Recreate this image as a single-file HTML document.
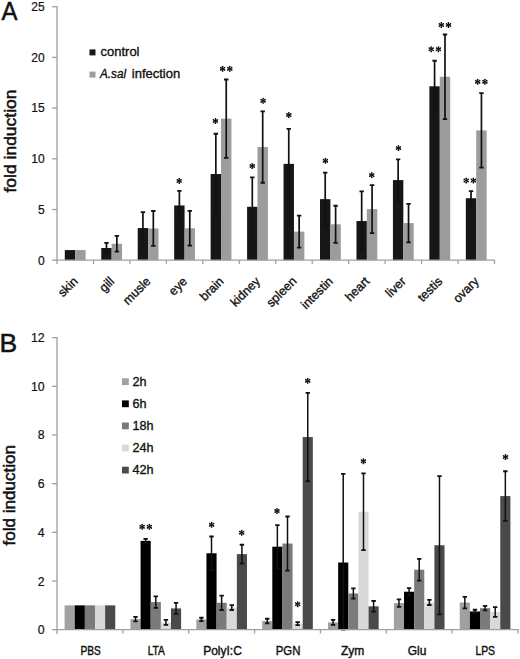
<!DOCTYPE html><html><head><meta charset="utf-8"><title>fold induction</title><style>html,body{margin:0;padding:0;background:#fff;}svg{display:block;}text{font-family:"Liberation Sans", sans-serif;fill:#111;stroke:#111;stroke-width:0.2px;}.b5{stroke-width:0.5px;}.b4{stroke-width:0.4px;}.b3{stroke-width:0.35px;}</style></head><body>
<svg width="520" height="659" viewBox="0 0 520 659">
<rect width="520" height="659" fill="#fff"/>
<text class="b5" x="1.5" y="19.9" font-size="25.5" textLength="16" lengthAdjust="spacingAndGlyphs">A</text>
<text class="b5" transform="translate(15.6,141) rotate(-90)" text-anchor="middle" font-size="16" textLength="103" lengthAdjust="spacingAndGlyphs">fold induction</text>
<path d="M52 260.2H57" stroke="#a0a0a0" stroke-width="1.3"/>
<text x="44.6" y="264.5" font-size="12" text-anchor="end">0</text>
<path d="M52 209.5H57" stroke="#a0a0a0" stroke-width="1.3"/>
<text x="44.6" y="213.8" font-size="12" text-anchor="end">5</text>
<path d="M52 158.8H57" stroke="#a0a0a0" stroke-width="1.3"/>
<text x="44.6" y="163.1" font-size="12" text-anchor="end">10</text>
<path d="M52 108.1H57" stroke="#a0a0a0" stroke-width="1.3"/>
<text x="44.6" y="112.4" font-size="12" text-anchor="end">15</text>
<path d="M52 57.4H57" stroke="#a0a0a0" stroke-width="1.3"/>
<text x="44.6" y="61.7" font-size="12" text-anchor="end">20</text>
<path d="M52 6.7H57" stroke="#a0a0a0" stroke-width="1.3"/>
<text x="44.6" y="11" font-size="12" text-anchor="end">25</text>
<rect x="64.8" y="250.06" width="10.4" height="10.14" fill="#161616"/>
<rect x="75.2" y="250.06" width="10.4" height="10.14" fill="#9c9c9c"/>
<rect x="101.26" y="248.03" width="10.4" height="12.17" fill="#161616"/>
<rect x="111.66" y="243.77" width="10.4" height="16.43" fill="#9c9c9c"/>
<rect x="137.72" y="228.06" width="10.4" height="32.14" fill="#161616"/>
<rect x="148.12" y="228.46" width="10.4" height="31.74" fill="#9c9c9c"/>
<rect x="174.18" y="205.44" width="10.4" height="54.76" fill="#161616"/>
<rect x="184.58" y="228.26" width="10.4" height="31.94" fill="#9c9c9c"/>
<rect x="210.63" y="174.01" width="10.4" height="86.19" fill="#161616"/>
<rect x="221.03" y="118.65" width="10.4" height="141.55" fill="#9c9c9c"/>
<rect x="247.09" y="206.76" width="10.4" height="53.44" fill="#161616"/>
<rect x="257.49" y="147.04" width="10.4" height="113.16" fill="#9c9c9c"/>
<rect x="283.55" y="163.87" width="10.4" height="96.33" fill="#161616"/>
<rect x="293.95" y="231.61" width="10.4" height="28.59" fill="#9c9c9c"/>
<rect x="320.01" y="199.16" width="10.4" height="61.04" fill="#161616"/>
<rect x="330.41" y="224.3" width="10.4" height="35.9" fill="#9c9c9c"/>
<rect x="356.47" y="221.06" width="10.4" height="39.14" fill="#161616"/>
<rect x="366.87" y="209.09" width="10.4" height="51.11" fill="#9c9c9c"/>
<rect x="392.93" y="180.09" width="10.4" height="80.11" fill="#161616"/>
<rect x="403.32" y="223.09" width="10.4" height="37.11" fill="#9c9c9c"/>
<rect x="429.38" y="86.3" width="10.4" height="173.9" fill="#161616"/>
<rect x="439.78" y="76.77" width="10.4" height="183.43" fill="#9c9c9c"/>
<rect x="465.84" y="198.24" width="10.4" height="61.96" fill="#161616"/>
<rect x="476.24" y="130.41" width="10.4" height="129.79" fill="#9c9c9c"/>
<path d="M106.46 242.96V253.1" stroke="#111" stroke-width="1.7"/><path d="M104.26 242.96H108.66 M104.26 253.1H108.66" stroke="#111" stroke-width="1.8"/>
<path d="M116.86 235.86V251.68" stroke="#111" stroke-width="1.7"/><path d="M114.66 235.86H119.06 M114.66 251.68H119.06" stroke="#111" stroke-width="1.8"/>
<path d="M142.92 212.03V244.08" stroke="#111" stroke-width="1.7"/><path d="M140.72 212.03H145.12 M140.72 244.08H145.12" stroke="#111" stroke-width="1.8"/>
<path d="M153.32 211.02V245.9" stroke="#111" stroke-width="1.7"/><path d="M151.12 211.02H155.52 M151.12 245.9H155.52" stroke="#111" stroke-width="1.8"/>
<path d="M179.38 190.84V220.05" stroke="#111" stroke-width="1.7"/><path d="M177.18 190.84H181.57 M177.18 220.05H181.57" stroke="#111" stroke-width="1.8"/>
<path d="M189.78 210.82V245.7" stroke="#111" stroke-width="1.7"/><path d="M187.58 210.82H191.97 M187.58 245.7H191.97" stroke="#111" stroke-width="1.8"/>
<path d="M215.83 133.75V214.27" stroke="#111" stroke-width="1.7"/><path d="M213.63 133.75H218.03 M213.63 214.27H218.03" stroke="#111" stroke-width="1.8"/>
<path d="M226.23 79.51V157.79" stroke="#111" stroke-width="1.7"/><path d="M224.03 79.51H228.43 M224.03 157.79H228.43" stroke="#111" stroke-width="1.8"/>
<path d="M252.29 177.36V236.17" stroke="#111" stroke-width="1.7"/><path d="M250.09 177.36H254.49 M250.09 236.17H254.49" stroke="#111" stroke-width="1.8"/>
<path d="M262.69 111.34V182.73" stroke="#111" stroke-width="1.7"/><path d="M260.49 111.34H264.89 M260.49 182.73H264.89" stroke="#111" stroke-width="1.8"/>
<path d="M288.75 128.89V198.85" stroke="#111" stroke-width="1.7"/><path d="M286.55 128.89H290.95 M286.55 198.85H290.95" stroke="#111" stroke-width="1.8"/>
<path d="M299.15 215.58V247.63" stroke="#111" stroke-width="1.7"/><path d="M296.95 215.58H301.35 M296.95 247.63H301.35" stroke="#111" stroke-width="1.8"/>
<path d="M325.21 172.59V225.72" stroke="#111" stroke-width="1.7"/><path d="M323.01 172.59H327.41 M323.01 225.72H327.41" stroke="#111" stroke-width="1.8"/>
<path d="M335.61 205.75V242.86" stroke="#111" stroke-width="1.7"/><path d="M333.41 205.75H337.81 M333.41 242.86H337.81" stroke="#111" stroke-width="1.8"/>
<path d="M361.67 191.35V250.77" stroke="#111" stroke-width="1.7"/><path d="M359.47 191.35H363.87 M359.47 250.77H363.87" stroke="#111" stroke-width="1.8"/>
<path d="M372.07 185.06V233.13" stroke="#111" stroke-width="1.7"/><path d="M369.87 185.06H374.27 M369.87 233.13H374.27" stroke="#111" stroke-width="1.8"/>
<path d="M398.12 159.31V200.88" stroke="#111" stroke-width="1.7"/><path d="M395.93 159.31H400.32 M395.93 200.88H400.32" stroke="#111" stroke-width="1.8"/>
<path d="M408.53 203.82V242.35" stroke="#111" stroke-width="1.7"/><path d="M406.33 203.82H410.73 M406.33 242.35H410.73" stroke="#111" stroke-width="1.8"/>
<path d="M434.58 60.75V111.85" stroke="#111" stroke-width="1.7"/><path d="M432.38 60.75H436.78 M432.38 111.85H436.78" stroke="#111" stroke-width="1.8"/>
<path d="M444.98 34.48V119.05" stroke="#111" stroke-width="1.7"/><path d="M442.78 34.48H447.18 M442.78 119.05H447.18" stroke="#111" stroke-width="1.8"/>
<path d="M471.04 191.05V205.44" stroke="#111" stroke-width="1.7"/><path d="M468.84 191.05H473.24 M468.84 205.44H473.24" stroke="#111" stroke-width="1.8"/>
<path d="M481.44 93.09V167.72" stroke="#111" stroke-width="1.7"/><path d="M479.24 93.09H483.64 M479.24 167.72H483.64" stroke="#111" stroke-width="1.8"/>
<path d="M57 6V264" stroke="#a0a0a0" stroke-width="1.3"/>
<path d="M56.4 260.2H495.1" stroke="#a0a0a0" stroke-width="1.3"/>
<path d="M93.46 260.2V264" stroke="#a0a0a0" stroke-width="1.3"/>
<path d="M129.92 260.2V264" stroke="#a0a0a0" stroke-width="1.3"/>
<path d="M166.38 260.2V264" stroke="#a0a0a0" stroke-width="1.3"/>
<path d="M202.83 260.2V264" stroke="#a0a0a0" stroke-width="1.3"/>
<path d="M239.29 260.2V264" stroke="#a0a0a0" stroke-width="1.3"/>
<path d="M275.75 260.2V264" stroke="#a0a0a0" stroke-width="1.3"/>
<path d="M312.21 260.2V264" stroke="#a0a0a0" stroke-width="1.3"/>
<path d="M348.67 260.2V264" stroke="#a0a0a0" stroke-width="1.3"/>
<path d="M385.12 260.2V264" stroke="#a0a0a0" stroke-width="1.3"/>
<path d="M421.58 260.2V264" stroke="#a0a0a0" stroke-width="1.3"/>
<path d="M458.04 260.2V264" stroke="#a0a0a0" stroke-width="1.3"/>
<path d="M494.5 260.2V264" stroke="#a0a0a0" stroke-width="1.3"/>
<text class="b3" transform="translate(78.53,282) rotate(-45)" text-anchor="end" font-size="12.4">skin</text>
<text class="b3" transform="translate(114.99,282) rotate(-45)" text-anchor="end" font-size="12.4">gill</text>
<text class="b3" transform="translate(151.45,282) rotate(-45)" text-anchor="end" font-size="12.4">musle</text>
<text class="b3" transform="translate(187.9,282) rotate(-45)" text-anchor="end" font-size="12.4">eye</text>
<text class="b3" transform="translate(224.36,282) rotate(-45)" text-anchor="end" font-size="12.4">brain</text>
<text class="b3" transform="translate(260.82,282) rotate(-45)" text-anchor="end" font-size="12.4">kidney</text>
<text class="b3" transform="translate(297.28,282) rotate(-45)" text-anchor="end" font-size="12.4">spleen</text>
<text class="b3" transform="translate(333.74,282) rotate(-45)" text-anchor="end" font-size="12.4">intestin</text>
<text class="b3" transform="translate(370.2,282) rotate(-45)" text-anchor="end" font-size="12.4">heart</text>
<text class="b3" transform="translate(406.65,282) rotate(-45)" text-anchor="end" font-size="12.4">liver</text>
<text class="b3" transform="translate(443.11,282) rotate(-45)" text-anchor="end" font-size="12.4">testis</text>
<text class="b3" transform="translate(479.57,282) rotate(-45)" text-anchor="end" font-size="12.4">ovary</text>
<rect x="89.5" y="49.4" width="6" height="6" fill="#161616"/>
<text class="b3" x="100.5" y="56.1" font-size="12.5" textLength="39" lengthAdjust="spacingAndGlyphs">control</text>
<rect x="89.5" y="71.6" width="6" height="6" fill="#9c9c9c"/>
<text class="b3" x="100" y="78" font-size="12.5" font-style="italic" textLength="26" lengthAdjust="spacingAndGlyphs">A.sal</text>
<text class="b3" x="131.8" y="78" font-size="12.5" textLength="48.4" lengthAdjust="spacingAndGlyphs">infection</text>
<path d="M179.2 178.6L179.2 183.2M177.21 179.75L181.19 182.05M181.19 179.75L177.21 182.05M177.9 180.9H180.5" stroke="#111" stroke-width="1" fill="none"/><circle cx="179.2" cy="183.09" r="0.85" fill="#111"/><circle cx="179.2" cy="178.72" r="0.85" fill="#111"/><circle cx="181.09" cy="181.99" r="0.85" fill="#111"/><circle cx="177.31" cy="179.81" r="0.85" fill="#111"/><circle cx="177.31" cy="181.99" r="0.85" fill="#111"/><circle cx="181.09" cy="179.81" r="0.85" fill="#111"/>
<path d="M215.4 118.7L215.4 123.3M213.41 119.85L217.39 122.15M217.39 119.85L213.41 122.15M214.1 121H216.7" stroke="#111" stroke-width="1" fill="none"/><circle cx="215.4" cy="123.19" r="0.85" fill="#111"/><circle cx="215.4" cy="118.81" r="0.85" fill="#111"/><circle cx="217.29" cy="122.09" r="0.85" fill="#111"/><circle cx="213.51" cy="119.91" r="0.85" fill="#111"/><circle cx="213.51" cy="122.09" r="0.85" fill="#111"/><circle cx="217.29" cy="119.91" r="0.85" fill="#111"/>
<path d="M222.6 66.5L222.6 71.1M220.61 67.65L224.59 69.95M224.59 67.65L220.61 69.95M221.3 68.8H223.9" stroke="#111" stroke-width="1" fill="none"/><circle cx="222.6" cy="70.98" r="0.85" fill="#111"/><circle cx="222.6" cy="66.61" r="0.85" fill="#111"/><circle cx="224.49" cy="69.89" r="0.85" fill="#111"/><circle cx="220.71" cy="67.71" r="0.85" fill="#111"/><circle cx="220.71" cy="69.89" r="0.85" fill="#111"/><circle cx="224.49" cy="67.71" r="0.85" fill="#111"/><path d="M229.8 66.5L229.8 71.1M227.81 67.65L231.79 69.95M231.79 67.65L227.81 69.95M228.5 68.8H231.1" stroke="#111" stroke-width="1" fill="none"/><circle cx="229.8" cy="70.98" r="0.85" fill="#111"/><circle cx="229.8" cy="66.61" r="0.85" fill="#111"/><circle cx="231.69" cy="69.89" r="0.85" fill="#111"/><circle cx="227.91" cy="67.71" r="0.85" fill="#111"/><circle cx="227.91" cy="69.89" r="0.85" fill="#111"/><circle cx="231.69" cy="67.71" r="0.85" fill="#111"/>
<path d="M252.3 163.7L252.3 168.3M250.31 164.85L254.29 167.15M254.29 164.85L250.31 167.15M251 166H253.6" stroke="#111" stroke-width="1" fill="none"/><circle cx="252.3" cy="168.19" r="0.85" fill="#111"/><circle cx="252.3" cy="163.81" r="0.85" fill="#111"/><circle cx="254.19" cy="167.09" r="0.85" fill="#111"/><circle cx="250.41" cy="164.91" r="0.85" fill="#111"/><circle cx="250.41" cy="167.09" r="0.85" fill="#111"/><circle cx="254.19" cy="164.91" r="0.85" fill="#111"/>
<path d="M263.1 98.5L263.1 103.1M261.11 99.65L265.09 101.95M265.09 99.65L261.11 101.95M261.8 100.8H264.4" stroke="#111" stroke-width="1" fill="none"/><circle cx="263.1" cy="102.98" r="0.85" fill="#111"/><circle cx="263.1" cy="98.61" r="0.85" fill="#111"/><circle cx="264.99" cy="101.89" r="0.85" fill="#111"/><circle cx="261.21" cy="99.71" r="0.85" fill="#111"/><circle cx="261.21" cy="101.89" r="0.85" fill="#111"/><circle cx="264.99" cy="99.71" r="0.85" fill="#111"/>
<path d="M288.8 112.7L288.8 117.3M286.81 113.85L290.79 116.15M290.79 113.85L286.81 116.15M287.5 115H290.1" stroke="#111" stroke-width="1" fill="none"/><circle cx="288.8" cy="117.19" r="0.85" fill="#111"/><circle cx="288.8" cy="112.81" r="0.85" fill="#111"/><circle cx="290.69" cy="116.09" r="0.85" fill="#111"/><circle cx="286.91" cy="113.91" r="0.85" fill="#111"/><circle cx="286.91" cy="116.09" r="0.85" fill="#111"/><circle cx="290.69" cy="113.91" r="0.85" fill="#111"/>
<path d="M325.4 158.5L325.4 163.1M323.41 159.65L327.39 161.95M327.39 159.65L323.41 161.95M324.1 160.8H326.7" stroke="#111" stroke-width="1" fill="none"/><circle cx="325.4" cy="162.99" r="0.85" fill="#111"/><circle cx="325.4" cy="158.62" r="0.85" fill="#111"/><circle cx="327.29" cy="161.89" r="0.85" fill="#111"/><circle cx="323.51" cy="159.71" r="0.85" fill="#111"/><circle cx="323.51" cy="161.89" r="0.85" fill="#111"/><circle cx="327.29" cy="159.71" r="0.85" fill="#111"/>
<path d="M371.7 172.8L371.7 177.4M369.71 173.95L373.69 176.25M373.69 173.95L369.71 176.25M370.4 175.1H373" stroke="#111" stroke-width="1" fill="none"/><circle cx="371.7" cy="177.28" r="0.85" fill="#111"/><circle cx="371.7" cy="172.91" r="0.85" fill="#111"/><circle cx="373.59" cy="176.19" r="0.85" fill="#111"/><circle cx="369.81" cy="174.01" r="0.85" fill="#111"/><circle cx="369.81" cy="176.19" r="0.85" fill="#111"/><circle cx="373.59" cy="174.01" r="0.85" fill="#111"/>
<path d="M398.5 145.8L398.5 150.4M396.51 146.95L400.49 149.25M400.49 146.95L396.51 149.25M397.2 148.1H399.8" stroke="#111" stroke-width="1" fill="none"/><circle cx="398.5" cy="150.28" r="0.85" fill="#111"/><circle cx="398.5" cy="145.91" r="0.85" fill="#111"/><circle cx="400.39" cy="149.19" r="0.85" fill="#111"/><circle cx="396.61" cy="147.01" r="0.85" fill="#111"/><circle cx="396.61" cy="149.19" r="0.85" fill="#111"/><circle cx="400.39" cy="147.01" r="0.85" fill="#111"/>
<path d="M431.2 46.9L431.2 51.5M429.21 48.05L433.19 50.35M433.19 48.05L429.21 50.35M429.9 49.2H432.5" stroke="#111" stroke-width="1" fill="none"/><circle cx="431.2" cy="51.39" r="0.85" fill="#111"/><circle cx="431.2" cy="47.02" r="0.85" fill="#111"/><circle cx="433.09" cy="50.29" r="0.85" fill="#111"/><circle cx="429.31" cy="48.11" r="0.85" fill="#111"/><circle cx="429.31" cy="50.29" r="0.85" fill="#111"/><circle cx="433.09" cy="48.11" r="0.85" fill="#111"/><path d="M438.4 46.9L438.4 51.5M436.41 48.05L440.39 50.35M440.39 48.05L436.41 50.35M437.1 49.2H439.7" stroke="#111" stroke-width="1" fill="none"/><circle cx="438.4" cy="51.39" r="0.85" fill="#111"/><circle cx="438.4" cy="47.02" r="0.85" fill="#111"/><circle cx="440.29" cy="50.29" r="0.85" fill="#111"/><circle cx="436.51" cy="48.11" r="0.85" fill="#111"/><circle cx="436.51" cy="50.29" r="0.85" fill="#111"/><circle cx="440.29" cy="48.11" r="0.85" fill="#111"/>
<path d="M441.3 22.7L441.3 27.3M439.31 23.85L443.29 26.15M443.29 23.85L439.31 26.15M440 25H442.6" stroke="#111" stroke-width="1" fill="none"/><circle cx="441.3" cy="27.18" r="0.85" fill="#111"/><circle cx="441.3" cy="22.82" r="0.85" fill="#111"/><circle cx="443.19" cy="26.09" r="0.85" fill="#111"/><circle cx="439.41" cy="23.91" r="0.85" fill="#111"/><circle cx="439.41" cy="26.09" r="0.85" fill="#111"/><circle cx="443.19" cy="23.91" r="0.85" fill="#111"/><path d="M448.5 22.7L448.5 27.3M446.51 23.85L450.49 26.15M450.49 23.85L446.51 26.15M447.2 25H449.8" stroke="#111" stroke-width="1" fill="none"/><circle cx="448.5" cy="27.18" r="0.85" fill="#111"/><circle cx="448.5" cy="22.82" r="0.85" fill="#111"/><circle cx="450.39" cy="26.09" r="0.85" fill="#111"/><circle cx="446.61" cy="23.91" r="0.85" fill="#111"/><circle cx="446.61" cy="26.09" r="0.85" fill="#111"/><circle cx="450.39" cy="23.91" r="0.85" fill="#111"/>
<path d="M466.2 178.2L466.2 182.8M464.21 179.35L468.19 181.65M468.19 179.35L464.21 181.65M464.9 180.5H467.5" stroke="#111" stroke-width="1" fill="none"/><circle cx="466.2" cy="182.69" r="0.85" fill="#111"/><circle cx="466.2" cy="178.31" r="0.85" fill="#111"/><circle cx="468.09" cy="181.59" r="0.85" fill="#111"/><circle cx="464.31" cy="179.41" r="0.85" fill="#111"/><circle cx="464.31" cy="181.59" r="0.85" fill="#111"/><circle cx="468.09" cy="179.41" r="0.85" fill="#111"/><path d="M473.4 178.2L473.4 182.8M471.41 179.35L475.39 181.65M475.39 179.35L471.41 181.65M472.1 180.5H474.7" stroke="#111" stroke-width="1" fill="none"/><circle cx="473.4" cy="182.69" r="0.85" fill="#111"/><circle cx="473.4" cy="178.31" r="0.85" fill="#111"/><circle cx="475.29" cy="181.59" r="0.85" fill="#111"/><circle cx="471.51" cy="179.41" r="0.85" fill="#111"/><circle cx="471.51" cy="181.59" r="0.85" fill="#111"/><circle cx="475.29" cy="179.41" r="0.85" fill="#111"/>
<path d="M477.7 79.5L477.7 84.1M475.71 80.65L479.69 82.95M479.69 80.65L475.71 82.95M476.4 81.8H479" stroke="#111" stroke-width="1" fill="none"/><circle cx="477.7" cy="83.98" r="0.85" fill="#111"/><circle cx="477.7" cy="79.61" r="0.85" fill="#111"/><circle cx="479.59" cy="82.89" r="0.85" fill="#111"/><circle cx="475.81" cy="80.71" r="0.85" fill="#111"/><circle cx="475.81" cy="82.89" r="0.85" fill="#111"/><circle cx="479.59" cy="80.71" r="0.85" fill="#111"/><path d="M484.9 79.5L484.9 84.1M482.91 80.65L486.89 82.95M486.89 80.65L482.91 82.95M483.6 81.8H486.2" stroke="#111" stroke-width="1" fill="none"/><circle cx="484.9" cy="83.98" r="0.85" fill="#111"/><circle cx="484.9" cy="79.61" r="0.85" fill="#111"/><circle cx="486.79" cy="82.89" r="0.85" fill="#111"/><circle cx="483.01" cy="80.71" r="0.85" fill="#111"/><circle cx="483.01" cy="82.89" r="0.85" fill="#111"/><circle cx="486.79" cy="80.71" r="0.85" fill="#111"/>
<text class="b5" x="-0.6" y="351.9" font-size="26.5">B</text>
<text class="b5" transform="translate(14.6,495.3) rotate(-90)" text-anchor="middle" font-size="16" textLength="100.5" lengthAdjust="spacingAndGlyphs">fold induction</text>
<path d="M52 629.7H57" stroke="#a0a0a0" stroke-width="1.3"/>
<text x="44.6" y="634.2" font-size="12.3" text-anchor="end">0</text>
<path d="M52 581.02H57" stroke="#a0a0a0" stroke-width="1.3"/>
<text x="44.6" y="585.52" font-size="12.3" text-anchor="end">2</text>
<path d="M52 532.34H57" stroke="#a0a0a0" stroke-width="1.3"/>
<text x="44.6" y="536.84" font-size="12.3" text-anchor="end">4</text>
<path d="M52 483.66H57" stroke="#a0a0a0" stroke-width="1.3"/>
<text x="44.6" y="488.16" font-size="12.3" text-anchor="end">6</text>
<path d="M52 434.98H57" stroke="#a0a0a0" stroke-width="1.3"/>
<text x="44.6" y="439.48" font-size="12.3" text-anchor="end">8</text>
<path d="M52 386.3H57" stroke="#a0a0a0" stroke-width="1.3"/>
<text x="44.6" y="390.8" font-size="12.3" text-anchor="end">10</text>
<path d="M52 337.62H57" stroke="#a0a0a0" stroke-width="1.3"/>
<text x="44.6" y="342.12" font-size="12.3" text-anchor="end">12</text>
<rect x="64.6" y="605.36" width="10.13" height="24.34" fill="#a0a0a0"/>
<rect x="74.73" y="605.36" width="10.13" height="24.34" fill="#000000"/>
<rect x="84.86" y="605.36" width="10.13" height="24.34" fill="#7a7a7a"/>
<rect x="94.99" y="605.36" width="10.13" height="24.34" fill="#d9d9d9"/>
<rect x="105.13" y="605.36" width="10.13" height="24.34" fill="#4a4a4a"/>
<rect x="130.46" y="619.11" width="10.13" height="10.59" fill="#a0a0a0"/>
<rect x="140.59" y="540.86" width="10.13" height="88.84" fill="#000000"/>
<rect x="150.72" y="602.07" width="10.13" height="27.63" fill="#7a7a7a"/>
<rect x="160.85" y="622.4" width="10.13" height="7.3" fill="#d9d9d9"/>
<rect x="170.98" y="608.4" width="10.13" height="21.3" fill="#4a4a4a"/>
<rect x="196.31" y="619.48" width="10.13" height="10.22" fill="#a0a0a0"/>
<rect x="206.45" y="553.27" width="10.13" height="76.43" fill="#000000"/>
<rect x="216.58" y="602.8" width="10.13" height="26.9" fill="#7a7a7a"/>
<rect x="226.71" y="607.55" width="10.13" height="22.15" fill="#d9d9d9"/>
<rect x="236.84" y="554.12" width="10.13" height="75.58" fill="#4a4a4a"/>
<rect x="262.17" y="621.06" width="10.13" height="8.64" fill="#a0a0a0"/>
<rect x="272.3" y="546.7" width="10.13" height="83" fill="#000000"/>
<rect x="282.43" y="543.54" width="10.13" height="86.16" fill="#7a7a7a"/>
<rect x="292.57" y="623.62" width="10.13" height="6.09" fill="#d9d9d9"/>
<rect x="302.7" y="437.05" width="10.13" height="192.65" fill="#4a4a4a"/>
<rect x="328.03" y="622.4" width="10.13" height="7.3" fill="#a0a0a0"/>
<rect x="338.16" y="562.52" width="10.13" height="67.18" fill="#000000"/>
<rect x="348.29" y="593.43" width="10.13" height="36.27" fill="#7a7a7a"/>
<rect x="358.42" y="511.77" width="10.13" height="117.93" fill="#d9d9d9"/>
<rect x="368.55" y="606.33" width="10.13" height="23.37" fill="#4a4a4a"/>
<rect x="393.88" y="603.05" width="10.13" height="26.65" fill="#a0a0a0"/>
<rect x="404.02" y="591.73" width="10.13" height="37.97" fill="#000000"/>
<rect x="414.15" y="569.7" width="10.13" height="60" fill="#7a7a7a"/>
<rect x="424.28" y="602.44" width="10.13" height="27.26" fill="#d9d9d9"/>
<rect x="434.41" y="545.24" width="10.13" height="84.46" fill="#4a4a4a"/>
<rect x="459.74" y="602.56" width="10.13" height="27.14" fill="#a0a0a0"/>
<rect x="469.87" y="611.45" width="10.13" height="18.25" fill="#000000"/>
<rect x="480.01" y="608.16" width="10.13" height="21.54" fill="#7a7a7a"/>
<rect x="490.14" y="611.93" width="10.13" height="17.77" fill="#d9d9d9"/>
<rect x="500.27" y="496.07" width="10.13" height="133.63" fill="#4a4a4a"/>
<path d="M135.52 616.8V621.42" stroke="#111" stroke-width="1.5"/><path d="M133.32 616.8H137.72 M133.32 621.42H137.72" stroke="#111" stroke-width="1.8"/>
<path d="M145.65 538.91V542.81" stroke="#111" stroke-width="1.5"/><path d="M143.45 538.91H147.85 M143.45 542.81H147.85" stroke="#111" stroke-width="1.8"/>
<path d="M155.79 596.35V607.79" stroke="#111" stroke-width="1.5"/><path d="M153.59 596.35H157.99 M153.59 607.79H157.99" stroke="#111" stroke-width="1.8"/>
<path d="M165.92 619.96V624.83" stroke="#111" stroke-width="1.5"/><path d="M163.72 619.96H168.12 M163.72 624.83H168.12" stroke="#111" stroke-width="1.8"/>
<path d="M176.05 602.93V613.88" stroke="#111" stroke-width="1.5"/><path d="M173.85 602.93H178.25 M173.85 613.88H178.25" stroke="#111" stroke-width="1.8"/>
<path d="M201.38 617.77V621.18" stroke="#111" stroke-width="1.5"/><path d="M199.18 617.77H203.58 M199.18 621.18H203.58" stroke="#111" stroke-width="1.8"/>
<path d="M211.51 536.48V570.07" stroke="#111" stroke-width="1.5"/><path d="M209.31 536.48H213.71 M209.31 570.07H213.71" stroke="#111" stroke-width="1.8"/>
<path d="M221.64 595.62V609.98" stroke="#111" stroke-width="1.5"/><path d="M219.44 595.62H223.84 M219.44 609.98H223.84" stroke="#111" stroke-width="1.8"/>
<path d="M231.77 605.12V609.98" stroke="#111" stroke-width="1.5"/><path d="M229.57 605.12H233.97 M229.57 609.98H233.97" stroke="#111" stroke-width="1.8"/>
<path d="M241.91 544.75V563.5" stroke="#111" stroke-width="1.5"/><path d="M239.71 544.75H244.11 M239.71 563.5H244.11" stroke="#111" stroke-width="1.8"/>
<path d="M267.24 618.75V623.37" stroke="#111" stroke-width="1.5"/><path d="M265.04 618.75H269.44 M265.04 623.37H269.44" stroke="#111" stroke-width="1.8"/>
<path d="M277.37 525.04V568.36" stroke="#111" stroke-width="1.5"/><path d="M275.17 525.04H279.57 M275.17 568.36H279.57" stroke="#111" stroke-width="1.8"/>
<path d="M287.5 516.52V570.55" stroke="#111" stroke-width="1.5"/><path d="M285.3 516.52H289.7 M285.3 570.55H289.7" stroke="#111" stroke-width="1.8"/>
<path d="M297.63 622.15V625.08" stroke="#111" stroke-width="1.5"/><path d="M295.43 622.15H299.83 M295.43 625.08H299.83" stroke="#111" stroke-width="1.8"/>
<path d="M307.76 392.87V481.23" stroke="#111" stroke-width="1.5"/><path d="M305.56 392.87H309.96 M305.56 481.23H309.96" stroke="#111" stroke-width="1.8"/>
<path d="M333.09 619.96V624.83" stroke="#111" stroke-width="1.5"/><path d="M330.89 619.96H335.29 M330.89 624.83H335.29" stroke="#111" stroke-width="1.8"/>
<path d="M343.23 473.92V629.7" stroke="#111" stroke-width="1.5"/><path d="M341.03 473.92H345.43 M341.03 629.7H345.43" stroke="#111" stroke-width="1.8"/>
<path d="M353.36 588.32V598.54" stroke="#111" stroke-width="1.5"/><path d="M351.16 588.32H355.56 M351.16 598.54H355.56" stroke="#111" stroke-width="1.8"/>
<path d="M363.49 473.44V550.11" stroke="#111" stroke-width="1.5"/><path d="M361.29 473.44H365.69 M361.29 550.11H365.69" stroke="#111" stroke-width="1.8"/>
<path d="M373.62 600.98V611.69" stroke="#111" stroke-width="1.5"/><path d="M371.42 600.98H375.82 M371.42 611.69H375.82" stroke="#111" stroke-width="1.8"/>
<path d="M398.95 599.28V606.82" stroke="#111" stroke-width="1.5"/><path d="M396.75 599.28H401.15 M396.75 606.82H401.15" stroke="#111" stroke-width="1.8"/>
<path d="M409.08 588.08V595.38" stroke="#111" stroke-width="1.5"/><path d="M406.88 588.08H411.28 M406.88 595.38H411.28" stroke="#111" stroke-width="1.8"/>
<path d="M419.21 558.87V580.53" stroke="#111" stroke-width="1.5"/><path d="M417.01 558.87H421.41 M417.01 580.53H421.41" stroke="#111" stroke-width="1.8"/>
<path d="M429.35 599.88V604.99" stroke="#111" stroke-width="1.5"/><path d="M427.15 599.88H431.55 M427.15 604.99H431.55" stroke="#111" stroke-width="1.8"/>
<path d="M439.48 476.11V614.37" stroke="#111" stroke-width="1.5"/><path d="M437.28 476.11H441.68 M437.28 614.37H441.68" stroke="#111" stroke-width="1.8"/>
<path d="M464.81 596.84V608.28" stroke="#111" stroke-width="1.5"/><path d="M462.61 596.84H467.01 M462.61 608.28H467.01" stroke="#111" stroke-width="1.8"/>
<path d="M474.94 609.74V613.15" stroke="#111" stroke-width="1.5"/><path d="M472.74 609.74H477.14 M472.74 613.15H477.14" stroke="#111" stroke-width="1.8"/>
<path d="M485.07 605.85V610.47" stroke="#111" stroke-width="1.5"/><path d="M482.87 605.85H487.27 M482.87 610.47H487.27" stroke="#111" stroke-width="1.8"/>
<path d="M495.2 607.06V616.8" stroke="#111" stroke-width="1.5"/><path d="M493 607.06H497.4 M493 616.8H497.4" stroke="#111" stroke-width="1.8"/>
<path d="M505.34 471.25V520.9" stroke="#111" stroke-width="1.5"/><path d="M503.14 471.25H507.54 M503.14 520.9H507.54" stroke="#111" stroke-width="1.8"/>
<path d="M57 337V634" stroke="#a0a0a0" stroke-width="1.3"/>
<path d="M56.4 629.7H518.6" stroke="#a0a0a0" stroke-width="1.3"/>
<path d="M122.86 629.7V633.5" stroke="#a0a0a0" stroke-width="1.3"/>
<path d="M188.71 629.7V633.5" stroke="#a0a0a0" stroke-width="1.3"/>
<path d="M254.57 629.7V633.5" stroke="#a0a0a0" stroke-width="1.3"/>
<path d="M320.43 629.7V633.5" stroke="#a0a0a0" stroke-width="1.3"/>
<path d="M386.29 629.7V633.5" stroke="#a0a0a0" stroke-width="1.3"/>
<path d="M452.14 629.7V633.5" stroke="#a0a0a0" stroke-width="1.3"/>
<path d="M518 629.7V633.5" stroke="#a0a0a0" stroke-width="1.3"/>
<text class="b4" x="90.7" y="655.3" font-size="12" text-anchor="middle" textLength="20.3" lengthAdjust="spacingAndGlyphs">PBS</text>
<text class="b4" x="156.25" y="655.3" font-size="12" text-anchor="middle" textLength="17.2" lengthAdjust="spacingAndGlyphs">LTA</text>
<text class="b4" x="222.5" y="655.3" font-size="12" text-anchor="middle">PolyI:C</text>
<text class="b4" x="288.1" y="655.3" font-size="12" text-anchor="middle" textLength="24.7" lengthAdjust="spacingAndGlyphs">PGN</text>
<text class="b4" x="352.6" y="655.3" font-size="12" text-anchor="middle">Zym</text>
<text class="b4" x="417" y="655.3" font-size="12" text-anchor="middle" textLength="18.6" lengthAdjust="spacingAndGlyphs">Glu</text>
<text class="b4" x="485.2" y="655.3" font-size="12" text-anchor="middle" textLength="19.6" lengthAdjust="spacingAndGlyphs">LPS</text>
<rect x="122" y="378.3" width="6.8" height="6.8" fill="#a0a0a0"/>
<text class="b3" x="132.6" y="385.6" font-size="12.6">2h</text>
<rect x="122" y="400.4" width="6.8" height="6.8" fill="#000000"/>
<text class="b3" x="132.6" y="407.7" font-size="12.6">6h</text>
<rect x="122" y="422.5" width="6.8" height="6.8" fill="#7a7a7a"/>
<text class="b3" x="132.6" y="429.8" font-size="12.6">18h</text>
<rect x="122" y="444.6" width="6.8" height="6.8" fill="#d9d9d9"/>
<text class="b3" x="132.6" y="451.9" font-size="12.6">24h</text>
<rect x="122" y="466.7" width="6.8" height="6.8" fill="#4a4a4a"/>
<text class="b3" x="132.6" y="474" font-size="12.6">42h</text>
<path d="M142.15 524.5L142.15 529.1M140.16 525.65L144.14 527.95M144.14 525.65L140.16 527.95M140.85 526.8H143.45" stroke="#111" stroke-width="1" fill="none"/><circle cx="142.15" cy="528.98" r="0.85" fill="#111"/><circle cx="142.15" cy="524.62" r="0.85" fill="#111"/><circle cx="144.04" cy="527.89" r="0.85" fill="#111"/><circle cx="140.26" cy="525.71" r="0.85" fill="#111"/><circle cx="140.26" cy="527.89" r="0.85" fill="#111"/><circle cx="144.04" cy="525.71" r="0.85" fill="#111"/><path d="M149.35 524.5L149.35 529.1M147.36 525.65L151.34 527.95M151.34 525.65L147.36 527.95M148.05 526.8H150.65" stroke="#111" stroke-width="1" fill="none"/><circle cx="149.35" cy="528.98" r="0.85" fill="#111"/><circle cx="149.35" cy="524.62" r="0.85" fill="#111"/><circle cx="151.24" cy="527.89" r="0.85" fill="#111"/><circle cx="147.46" cy="525.71" r="0.85" fill="#111"/><circle cx="147.46" cy="527.89" r="0.85" fill="#111"/><circle cx="151.24" cy="525.71" r="0.85" fill="#111"/>
<path d="M211.6 522.5L211.6 527.1M209.61 523.65L213.59 525.95M213.59 523.65L209.61 525.95M210.3 524.8H212.9" stroke="#111" stroke-width="1" fill="none"/><circle cx="211.6" cy="526.98" r="0.85" fill="#111"/><circle cx="211.6" cy="522.62" r="0.85" fill="#111"/><circle cx="213.49" cy="525.89" r="0.85" fill="#111"/><circle cx="209.71" cy="523.71" r="0.85" fill="#111"/><circle cx="209.71" cy="525.89" r="0.85" fill="#111"/><circle cx="213.49" cy="523.71" r="0.85" fill="#111"/>
<path d="M241.7 530.4L241.7 535M239.71 531.55L243.69 533.85M243.69 531.55L239.71 533.85M240.4 532.7H243" stroke="#111" stroke-width="1" fill="none"/><circle cx="241.7" cy="534.88" r="0.85" fill="#111"/><circle cx="241.7" cy="530.52" r="0.85" fill="#111"/><circle cx="243.59" cy="533.79" r="0.85" fill="#111"/><circle cx="239.81" cy="531.61" r="0.85" fill="#111"/><circle cx="239.81" cy="533.79" r="0.85" fill="#111"/><circle cx="243.59" cy="531.61" r="0.85" fill="#111"/>
<path d="M277 508.7L277 513.3M275.01 509.85L278.99 512.15M278.99 509.85L275.01 512.15M275.7 511H278.3" stroke="#111" stroke-width="1" fill="none"/><circle cx="277" cy="513.18" r="0.85" fill="#111"/><circle cx="277" cy="508.81" r="0.85" fill="#111"/><circle cx="278.89" cy="512.09" r="0.85" fill="#111"/><circle cx="275.11" cy="509.91" r="0.85" fill="#111"/><circle cx="275.11" cy="512.09" r="0.85" fill="#111"/><circle cx="278.89" cy="509.91" r="0.85" fill="#111"/>
<path d="M297.7 601.9L297.7 606.5M295.71 603.05L299.69 605.35M299.69 603.05L295.71 605.35M296.4 604.2H299" stroke="#111" stroke-width="1" fill="none"/><circle cx="297.7" cy="606.38" r="0.85" fill="#111"/><circle cx="297.7" cy="602.02" r="0.85" fill="#111"/><circle cx="299.59" cy="605.29" r="0.85" fill="#111"/><circle cx="295.81" cy="603.11" r="0.85" fill="#111"/><circle cx="295.81" cy="605.29" r="0.85" fill="#111"/><circle cx="299.59" cy="603.11" r="0.85" fill="#111"/>
<path d="M307.7 378.5L307.7 383.1M305.71 379.65L309.69 381.95M309.69 379.65L305.71 381.95M306.4 380.8H309" stroke="#111" stroke-width="1" fill="none"/><circle cx="307.7" cy="382.99" r="0.85" fill="#111"/><circle cx="307.7" cy="378.62" r="0.85" fill="#111"/><circle cx="309.59" cy="381.89" r="0.85" fill="#111"/><circle cx="305.81" cy="379.71" r="0.85" fill="#111"/><circle cx="305.81" cy="381.89" r="0.85" fill="#111"/><circle cx="309.59" cy="379.71" r="0.85" fill="#111"/>
<path d="M363.4 458.9L363.4 463.5M361.41 460.05L365.39 462.35M365.39 460.05L361.41 462.35M362.1 461.2H364.7" stroke="#111" stroke-width="1" fill="none"/><circle cx="363.4" cy="463.38" r="0.85" fill="#111"/><circle cx="363.4" cy="459.01" r="0.85" fill="#111"/><circle cx="365.29" cy="462.29" r="0.85" fill="#111"/><circle cx="361.51" cy="460.11" r="0.85" fill="#111"/><circle cx="361.51" cy="462.29" r="0.85" fill="#111"/><circle cx="365.29" cy="460.11" r="0.85" fill="#111"/>
<path d="M505.5 454.7L505.5 459.3M503.51 455.85L507.49 458.15M507.49 455.85L503.51 458.15M504.2 457H506.8" stroke="#111" stroke-width="1" fill="none"/><circle cx="505.5" cy="459.19" r="0.85" fill="#111"/><circle cx="505.5" cy="454.81" r="0.85" fill="#111"/><circle cx="507.39" cy="458.09" r="0.85" fill="#111"/><circle cx="503.61" cy="455.91" r="0.85" fill="#111"/><circle cx="503.61" cy="458.09" r="0.85" fill="#111"/><circle cx="507.39" cy="455.91" r="0.85" fill="#111"/>
</svg></body></html>
